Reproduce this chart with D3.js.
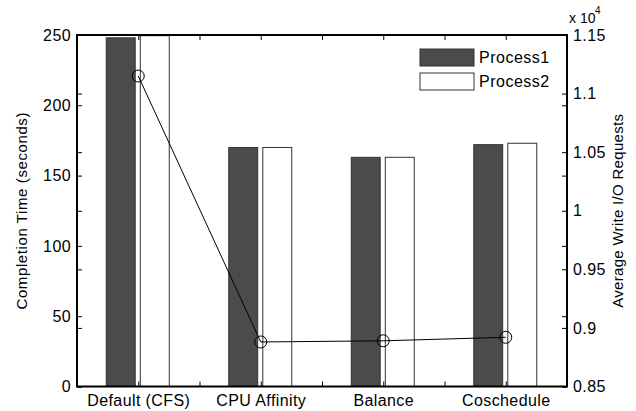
<!DOCTYPE html>
<html>
<head>
<meta charset="utf-8">
<script src="https://cdn.jsdelivr.net/npm/d3@7"></script>
<style>
  body { margin: 0; background: #fff; }
  svg { font-family: "Liberation Sans", Arial, sans-serif; }
</style>
</head>
<body>
<div class="center"></div>
<script>
const categories = ["Default (CFS)", "CPU Affinity", "Balance", "Coschedule"];
const series = ["Process1", "Process2"];
const process1 = [248, 170, 163, 172];
const process2 = [249.5, 170, 163, 173];
const writeRequests = [1.115, 0.888, 0.889, 0.892]; // x 10^4
const leftTicks = [0, 50, 100, 150, 200, 250];
const rightTicks = [0.85, 0.9, 0.95, 1, 1.05, 1.1, 1.15];
const rightTickLabels = ["0.85", "0.9", "0.95", "1", "1.05", "1.1", "1.15"];
const xTicks = [1, 1.5, 2, 2.5, 3, 3.5, 4];

const w = 636, h = 411;
const pl = 77, pr = 567, pt = 35, pb = 386.5;

const svg = d3.select(".center")
    .append("svg")
    .attr("width", w)
    .attr("height", h);

const xScale = d3.scaleLinear().domain([0.5, 4.5]).range([pl, pr]);
const yLeft = d3.scaleLinear().domain([0, 250]).range([pb, pt]);
const yRight = d3.scaleLinear().domain([0.85, 1.15]).range([pb, pt]);
const inner = d3.scaleBand().domain(series).range([-32, 31]).paddingInner(0.15);
const fills = { Process1: "#4b4b4b", Process2: "#ffffff" };

const data = categories.map((c, i) => ({ c, i, vals: [process1[i], process2[i]] }));

// bars
svg.append("g").selectAll("g")
    .data(data)
    .enter()
    .append("g")
    .attr("transform", d => `translate(${xScale(d.i + 1)},0)`)
    .selectAll("rect")
    .data(d => d.vals.map((v, k) => ({ s: series[k], v })))
    .enter()
    .append("rect")
    .attr("x", d => inner(d.s))
    .attr("y", d => yLeft(d.v))
    .attr("width", inner.bandwidth())
    .attr("height", d => yLeft(0) - yLeft(d.v))
    .attr("fill", d => fills[d.s])
    .attr("stroke", "#333")
    .attr("stroke-width", 1);

// line on right axis
const line = d3.line()
    .x((d, i) => xScale(i + 1))
    .y(d => yRight(d));

svg.append("path")
    .datum(writeRequests)
    .attr("d", line)
    .attr("fill", "none")
    .attr("stroke", "#000")
    .attr("stroke-width", 1);

svg.selectAll("circle.pt")
    .data(writeRequests)
    .enter()
    .append("circle")
    .attr("class", "pt")
    .attr("cx", (d, i) => xScale(i + 1))
    .attr("cy", d => yRight(d))
    .attr("r", 6)
    .attr("fill", "none")
    .attr("stroke", "#000")
    .attr("stroke-width", 1);

// axes (inward ticks, matlab style)
const tickLen = 5;
const axStyle = g => {
    g.select(".domain").remove();
    g.selectAll("line").attr("stroke", "#000");
    g.selectAll("text").attr("font-size", 16).attr("letter-spacing", 0.4).attr("fill", "#000");
};

svg.append("g")
    .attr("transform", `translate(0,${pb})`)
    .call(d3.axisBottom(xScale).tickValues(xTicks).tickSizeInner(-tickLen).tickSizeOuter(0)
        .tickPadding(8)
        .tickFormat(d => Number.isInteger(d) ? categories[d - 1] : ""))
    .call(axStyle);

svg.append("g")
    .attr("transform", `translate(0,${pt})`)
    .call(d3.axisTop(xScale).tickValues(xTicks).tickSizeInner(-tickLen).tickSizeOuter(0).tickFormat(""))
    .call(axStyle);

svg.append("g")
    .attr("transform", `translate(${pl},0)`)
    .call(d3.axisLeft(yLeft).tickValues(leftTicks).tickSizeInner(-tickLen).tickSizeOuter(0).tickPadding(6))
    .call(axStyle);

svg.append("g")
    .attr("transform", `translate(${pr},0)`)
    .call(d3.axisLeft(yLeft).tickValues(leftTicks).tickSizeInner(tickLen).tickSizeOuter(0).tickFormat(""))
    .call(axStyle);

svg.append("g")
    .attr("transform", `translate(${pr},0)`)
    .call(d3.axisRight(yRight).tickValues(rightTicks).tickSizeInner(-tickLen).tickSizeOuter(0).tickPadding(6)
        .tickFormat((d, i) => rightTickLabels[i]))
    .call(axStyle);

svg.append("g")
    .attr("transform", `translate(${pl},0)`)
    .call(d3.axisRight(yRight).tickValues(rightTicks).tickSizeInner(tickLen).tickSizeOuter(0).tickFormat(""))
    .call(axStyle);

// frame
svg.append("rect")
    .attr("x", pl)
    .attr("y", pt)
    .attr("width", pr - pl)
    .attr("height", pb - pt)
    .attr("fill", "none")
    .attr("stroke", "#000")
    .attr("stroke-width", 2);

// exponent
svg.append("text")
    .attr("x", 569)
    .attr("y", 23)
    .attr("font-size", 14)
    .text("x 10");
svg.append("text")
    .attr("x", 595)
    .attr("y", 14)
    .attr("font-size", 10)
    .text("4");

// axis titles
svg.append("text")
    .attr("transform", `translate(27,${(pt + pb) / 2}) rotate(-90)`)
    .attr("text-anchor", "middle")
    .attr("font-size", 15)
    .attr("letter-spacing", 0.6)
    .text("Completion Time (seconds)");

svg.append("text")
    .attr("transform", `translate(623,${(pt + pb) / 2}) rotate(-90)`)
    .attr("text-anchor", "middle")
    .attr("font-size", 15)
    .attr("letter-spacing", 0.3)
    .text("Average Write I/O Requests");

// legend
const legend = svg.append("g").attr("transform", "translate(420,49)");
series.forEach((s, i) => {
    legend.append("rect")
        .attr("x", 0)
        .attr("y", i * 24)
        .attr("width", 54)
        .attr("height", 17)
        .attr("fill", fills[s])
        .attr("stroke", "#333");
    legend.append("text")
        .attr("x", 59)
        .attr("y", i * 24 + 14)
        .attr("font-size", 16)
        .attr("letter-spacing", 0.5)
        .text(s);
});
</script>
</body>
</html>
